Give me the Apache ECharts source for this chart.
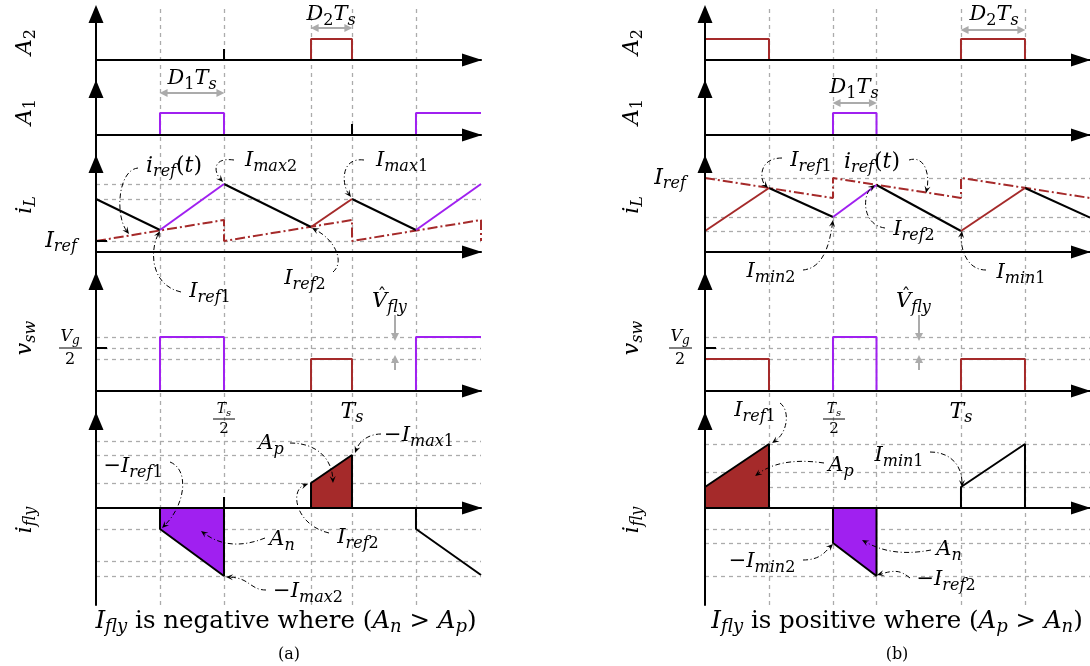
<!DOCTYPE html>
<html><head><meta charset="utf-8">
<script src="https://cdn.jsdelivr.net/npm/echarts@6/dist/echarts.min.js"></script>
<style>html,body{margin:0;padding:0;background:#fff}#c{width:1090px;height:666px}</style>
</head><body><div id="c"></div>
<script>
// ================= DATA =================
const T_MAX = 1.504;               // time axis end, in units of Ts
// ---- panel (a) ----
const aGridT = [0.25, 0.5, 0.84, 1.0, 1.25];
const aA2Brown = [[[0.84,0],[0.84,2.1],[1.0,2.1],[1.0,0]]];
const aA2Ticks = [[[0.5,0],[0.5,1.1]]];
const aA2Span = [0.84, 1.0, 3.2];
const aA1Purple = [[[0.25,0],[0.25,2.2],[0.5,2.2],[0.5,0]], [[1.25,0],[1.25,2.2],[1.504,2.2]]];
const aA1Ticks = [[[1.0,0],[1.0,1.1]]];
const aA1Span = [0.25, 0.5, 4.2];
const aILLevels = [6.8, 5.3, 1.1];
const aILBlack = [[[0,5.3],[0.25,2.2]], [[0.5,6.8],[0.84,2.5]], [[1.0,5.3],[1.25,2.2]]];
const aILPurple = [[[0.25,2.2],[0.5,6.8]], [[1.25,2.2],[1.504,6.8]]];
const aILBrown = [[[0.84,2.5],[1.0,5.3]]];
const aIref = [[0,1.1],[0.5,3.2],[0.5,1.1],[1.0,3.2],[1.0,1.1],[1.504,3.2],[1.504,1.1]];
const aILTicks = [[[0,1.1],[0.043,1.1]]];
const aVswLevels = [5.4, 4.3, 3.2];
const aVswPurple = [[[0.25,0],[0.25,5.4],[0.5,5.4],[0.5,0]], [[1.25,0],[1.25,5.4],[1.504,5.4]]];
const aVswBrown = [[[0.84,0],[0.84,3.2],[1.0,3.2],[1.0,0]]];
const aVswTicks = [[[0,4.3],[0.043,4.3]]];
const aVfly = [1.168, 7.6, 5.4, 2.1, 3.2];
const aIflyLevels = [6.7, 5.3, 2.5, -2.1, -5.3, -6.8];
const aIflyPos = [[0.84,0],[0.84,2.5],[1.0,5.3],[1.0,0]];
const aIflyNeg = [[0.25,0],[0.25,-2.1],[0.5,-6.8],[0.5,0]];
const aIflyLine = [[[1.25,0],[1.25,-2.1],[1.504,-6.7]]];
const aIflyTicks = [[[0.5,0],[0.5,1.1]]];
// ---- panel (b) ----
const bGridT = [0.25, 0.5, 0.67, 1.0, 1.25];
const bA2Brown = [[[0,0],[0,2.1],[0.25,2.1],[0.25,0]], [[1.0,0],[1.0,2.1],[1.25,2.1],[1.25,0]]];
const bA2Ticks = [];
const bA2Span = [1.0, 1.25, 3.0];
const bA1Purple = [[[0.5,0],[0.5,2.2],[0.67,2.2],[0.67,0]]];
const bA1Ticks = [];
const bA1Span = [0.5, 0.67, 3.2];
const bILLevels = [7.4, 3.5, 2.1];
const bILBlack = [[[0.25,6.4],[0.5,3.5]], [[0.67,6.7],[1.0,2.1]], [[1.25,6.4],[1.504,3.45]]];
const bILPurple = [[[0.5,3.5],[0.67,6.7]]];
const bILBrown = [[[0,2.1],[0.25,6.4]], [[1.0,2.1],[1.25,6.4]]];
const bIref = [[0,7.4],[0.5,5.4],[0.5,7.4],[1.0,5.4],[1.0,7.4],[1.504,5.4]];
const bILTicks = [];
const bVswLevels = [5.4, 4.3, 3.2];
const bVswPurple = [[[0.5,0],[0.5,5.4],[0.67,5.4],[0.67,0]]];
const bVswBrown = [[[0,3.2],[0.25,3.2],[0.25,0]], [[1.0,0],[1.0,3.2],[1.25,3.2],[1.25,0]]];
const bVswTicks = [[[0,4.3],[0.043,4.3]]];
const bVfly = [0.836, 7.6, 5.4, 2.1, 3.2];
const bIflyLevels = [6.4, 3.6, 2.1, -2.1, -3.5, -6.8];
const bIflyPos = [[0,0],[0,2.1],[0.25,6.4],[0.25,0]];
const bIflyNeg = [[0.5,0],[0.5,-3.5],[0.67,-6.8],[0.67,0]];
const bIflyLine = [[[1.0,0],[1.0,2.1],[1.25,6.4],[1.25,0]]];
const bIflyTicks = [];

// ================= LAYOUT / STYLE =================
const PX = 10;
const ROWS = [{top:14,base:60,bottom:89},{top:89,base:135,bottom:164},{top:164,base:252,bottom:281},{top:281,base:391,bottom:421},{top:421,base:508,bottom:605}];
const PLOT_W = 385;
const BROWN = '#a52a2a', PURPLE = '#a020f0', GRAY = '#ababab';
const SERIF = '"DejaVu Serif","Liberation Serif",serif';

const grids = [], xAxes = [], yAxes = [], series = [];
function addGrid(left, top, height, ymin, ymax, vis) {
  const gi = grids.length;
  grids.push({left, top, width: PLOT_W, height, outerBoundsMode: 'none'});
  xAxes.push({type:'value', gridIndex:gi, min:0, max:T_MAX, z:5,
    axisLine:{show:vis, onZero:true, lineStyle:{color:'#000', width:2}, symbol:['none','triangle'], symbolSize:[13,20], symbolOffset:[0,-9]},
    axisTick:{show:false}, axisLabel:{show:false}, splitLine:{show:false}});
  yAxes.push({type:'value', gridIndex:gi, min:ymin, max:ymax, z:5,
    axisLine:{show:vis, onZero:false, lineStyle:{color:'#000', width:2}, symbol:['none','triangle'], symbolSize:[15,18]},
    axisTick:{show:false}, axisLabel:{show:false}, splitLine:{show:false}});
  return gi;
}
function line(gi, data, color, width, extra) {
  series.push(Object.assign({type:'line', xAxisIndex:gi, yAxisIndex:gi, data, symbol:'none', showSymbol:false,
    clip:false, silent:true, z:3, animation:false, lineStyle:{color, width}}, extra || {}));
}
function segs(gi, list, color, width) { list.forEach(d => line(gi, d, color, width)); }
function marks(gi, mdata, mstyle, symbols, size, mz) {
  series.push({type:'line', xAxisIndex:gi, yAxisIndex:gi, data:[[0,0]], symbol:'none', silent:true, z:1,
    animation:false, lineStyle:{opacity:0},
    markLine:{z: mz || 1, silent:true, animation:false, symbol:symbols || ['none','none'], symbolSize:size || 8,
      label:{show:false}, lineStyle:mstyle, data:mdata}});
}
const dashStyle = {color:GRAY, type:[4,4], width:1.3};
function hLevels(gi, levels) { marks(gi, levels.map(v => ({yAxis:v})), dashStyle); }
function span(gi, s) {
  const k = 0.014; // pull arrow tips onto the grid lines
  marks(gi, [[{coord:[s[0]+k,s[2]]},{coord:[s[1]-k,s[2]]}]], {color:GRAY, width:2, type:'solid'}, ['triangle','triangle'], 8, 4);
}
function vfly(gi, v) {
  marks(gi, [[{coord:[v[0],v[1]]},{coord:[v[0],v[2]]}], [{coord:[v[0],v[3]]},{coord:[v[0],v[4]]}]],
    {color:GRAY, width:2, type:'solid'}, ['none','triangle'], 8, 4);
}

function buildPanel(P, left) {
  const g = ROWS.map(r => addGrid(left, r.top, r.bottom - r.top, -(r.bottom - r.base) / PX, (r.base - r.top) / PX, true));
  const bg = addGrid(left, 7, 598, 0, 1, false);
  marks(bg, P.gridT.map(t => ({xAxis:t})), dashStyle);
  // A2
  segs(g[0], P.A2Brown, BROWN, 2); segs(g[0], P.A2Ticks, '#000', 2); span(g[0], P.A2Span);
  // A1
  segs(g[1], P.A1Purple, PURPLE, 2); segs(g[1], P.A1Ticks, '#000', 2); span(g[1], P.A1Span);
  // iL
  hLevels(g[2], P.ILLevels);
  line(g[2], P.Iref, BROWN, 2, {lineStyle:{color:BROWN, width:2, type:[10,3,2,3]}});
  segs(g[2], P.ILBlack, '#000', 2); segs(g[2], P.ILPurple, PURPLE, 2); segs(g[2], P.ILBrown, BROWN, 2);
  segs(g[2], P.ILTicks, '#000', 2);
  // vsw
  hLevels(g[3], P.VswLevels);
  segs(g[3], P.VswPurple, PURPLE, 2); segs(g[3], P.VswBrown, BROWN, 2); segs(g[3], P.VswTicks, '#000', 2);
  vfly(g[3], P.Vfly);
  // ifly
  hLevels(g[4], P.IflyLevels);
  line(g[4], P.IflyPos, '#000', 2, {areaStyle:{color:BROWN, opacity:1}});
  line(g[4], P.IflyNeg, '#000', 2, {areaStyle:{color:PURPLE, opacity:1}});
  segs(g[4], P.IflyLine, '#000', 2); segs(g[4], P.IflyTicks, '#000', 2);
}
buildPanel({gridT:aGridT, A2Brown:aA2Brown, A2Ticks:aA2Ticks, A2Span:aA2Span, A1Purple:aA1Purple, A1Ticks:aA1Ticks, A1Span:aA1Span,
  ILLevels:aILLevels, ILBlack:aILBlack, ILPurple:aILPurple, ILBrown:aILBrown, Iref:aIref, ILTicks:aILTicks,
  VswLevels:aVswLevels, VswPurple:aVswPurple, VswBrown:aVswBrown, VswTicks:aVswTicks, Vfly:aVfly,
  IflyLevels:aIflyLevels, IflyPos:aIflyPos, IflyNeg:aIflyNeg, IflyLine:aIflyLine, IflyTicks:aIflyTicks}, 96);
buildPanel({gridT:bGridT, A2Brown:bA2Brown, A2Ticks:bA2Ticks, A2Span:bA2Span, A1Purple:bA1Purple, A1Ticks:bA1Ticks, A1Span:bA1Span,
  ILLevels:bILLevels, ILBlack:bILBlack, ILPurple:bILPurple, ILBrown:bILBrown, Iref:bIref, ILTicks:bILTicks,
  VswLevels:bVswLevels, VswPurple:bVswPurple, VswBrown:bVswBrown, VswTicks:bVswTicks, Vfly:bVfly,
  IflyLevels:bIflyLevels, IflyPos:bIflyPos, IflyNeg:bIflyNeg, IflyLine:bIflyLine, IflyTicks:bIflyTicks}, 705);

// ================= ANNOTATIONS =================
function rich(F) {
  const f = Math.round(F * 0.74), p = Math.round(F * 0.4);
  return {
    m:{fontFamily:SERIF, fontStyle:'italic', fontSize:F, lineHeight:F, verticalAlign:'top'},
    r:{fontFamily:SERIF, fontSize:F, lineHeight:F, verticalAlign:'top'},
    s:{fontFamily:SERIF, fontStyle:'italic', fontSize:f, lineHeight:f, padding:[p,0,0,0], verticalAlign:'top'},
    n:{fontFamily:SERIF, fontSize:f, lineHeight:f, padding:[p,0,0,0], verticalAlign:'top'}
  };
}
const G = [];
function T(x, y, str, F, opt) {
  opt = opt || {};
  G.push({type:'text', x, y, rotation:opt.rot || 0, z:100, silent:true,
    style:{text:str, rich:rich(F), align:opt.align || 'center', verticalAlign:'middle', fill:'#000'}});
}
function bar(x1, x2, y) { G.push({type:'line', z:100, silent:true, shape:{x1, y1:y, x2, y2:y}, style:{stroke:'#000', lineWidth:1}}); }
function leader(p) {
  const [x1,y1,c1x,c1y,c2x,c2y,x2,y2] = p;
  const a = Math.atan2(y2 - c2y, x2 - c2x), L = 7, W = 3;
  const bx = x2 - L * Math.cos(a), by = y2 - L * Math.sin(a);
  const nx = x2 - 0.6 * L * Math.cos(a), ny = y2 - 0.6 * L * Math.sin(a);
  const px = -Math.sin(a) * W, py = Math.cos(a) * W;
  G.push({type:'bezierCurve', z:90, silent:true, shape:{x1, y1, cpx1:c1x, cpy1:c1y, cpx2:c2x, cpy2:c2y, x2:nx, y2:ny},
    style:{stroke:'#000', lineWidth:1, lineDash:[5,2.5,1,2.5], fill:'none'}});
  G.push({type:'polygon', z:91, silent:true, shape:{points:[[x2,y2],[bx+px,by+py],[nx,ny],[bx-px,by-py]]}, style:{fill:'#000'}});
}
const R = Math.PI / 2;
// axis names
[[25],[632]].forEach(([x]) => {
  T(x, 42, '{m|A}{n|2}', 22, {rot:R});
  T(x, 112, '{m|A}{n|1}', 22, {rot:R});
  T(x, 205, '{m|i}{s|L}', 22, {rot:R});
  T(x, 338, '{m|v}{s|sw}', 22, {rot:R});
  T(x, 520, '{m|i}{s|fly}', 22, {rot:R});
});
// panel (a)
T(331, 15, '{m|D}{n|2}{m|T}{s|s}', 21);
T(192, 79, '{m|D}{n|1}{m|T}{s|s}', 21);
T(174, 166, '{m|i}{s|ref}{r|(}{m|t}{r|)}', 22);
T(271, 161, '{m|I}{s|max}{n|2}', 21);
T(402, 161, '{m|I}{s|max}{n|1}', 21);
T(210, 292, '{m|I}{s|ref}{n|1}', 21);
T(305, 279, '{m|I}{s|ref}{n|2}', 21);
T(61, 241, '{m|I}{s|ref}', 22);
T(70, 337, '{m|V}{s|g}', 16); bar(59, 82, 348); T(70, 360, '{r|2}', 16);
T(372, 302, '{m|V}{s|fly}', 21, {align:'left'}); T(382, 297, '{r|ˆ}', 18);
T(224, 409, '{m|T}{s|s}', 14); bar(213, 235, 419); T(224, 429, '{r|2}', 15);
T(352, 412, '{m|T}{s|s}', 22);
T(271, 444, '{m|A}{s|p}', 21);
T(419, 436, '{r|−}{m|I}{s|max}{n|1}', 21);
T(133, 467, '{r|−}{m|I}{s|ref}{n|1}', 21);
T(282, 540, '{m|A}{s|n}', 21);
T(358, 538, '{m|I}{s|ref}{n|2}', 21);
T(308, 592, '{r|−}{m|I}{s|max}{n|2}', 21);
T(286, 621, '{m|I}{s|fly}{r| is negative where (}{m|A}{s|n}{r| > }{m|A}{s|p}{r|)}', 24.5);
T(289, 655, '{r|(a)}', 16);
// panel (b)
T(994, 15, '{m|D}{n|2}{m|T}{s|s}', 21);
T(854, 88, '{m|D}{n|1}{m|T}{s|s}', 21);
T(811, 161, '{m|I}{s|ref}{n|1}', 21);
T(872, 162, '{m|i}{s|ref}{r|(}{m|t}{r|)}', 22);
T(914, 230, '{m|I}{s|ref}{n|2}', 21);
T(670, 178, '{m|I}{s|ref}', 22);
T(771, 272, '{m|I}{s|min}{n|2}', 21);
T(1021, 273, '{m|I}{s|min}{n|1}', 21);
T(680, 337, '{m|V}{s|g}', 16); bar(669, 692, 348); T(680, 360, '{r|2}', 16);
T(896, 302, '{m|V}{s|fly}', 21, {align:'left'}); T(906, 297, '{r|ˆ}', 18);
T(834, 409, '{m|T}{s|s}', 14); bar(823, 845, 419); T(834, 429, '{r|2}', 15);
T(961, 412, '{m|T}{s|s}', 22);
T(755, 411, '{m|I}{s|ref}{n|1}', 21);
T(841, 466, '{m|A}{s|p}', 21);
T(899, 456, '{m|I}{s|min}{n|1}', 21);
T(949, 550, '{m|A}{s|n}', 21);
T(762, 562, '{r|−}{m|I}{s|min}{n|2}', 21);
T(946, 580, '{r|−}{m|I}{s|ref}{n|2}', 21);
T(897, 621, '{m|I}{s|fly}{r| is positive where (}{m|A}{s|p}{r| > }{m|A}{s|n}{r|)}', 24.5);
T(897, 655, '{r|(b)}', 16);
// leader arrows
[
 [138,168, 118,170, 115,215, 129,234],
 [234,160, 212,157, 214,172, 223,182],
 [364,160, 340,157, 342,185, 351,197],
 [181,292, 150,285, 150,250, 160,231],
 [333,272, 345,262, 335,240, 312,228],
 [290,443, 318,443, 332,460, 333,483],
 [381,434, 370,434, 360,440, 355,453],
 [329,533, 295,525, 290,490, 308,484],
 [265,538, 240,548, 220,545, 201,531],
 [266,590, 250,590, 250,578, 226,577],
 [170,462, 190,470, 185,505, 162,528],
 [782,158, 758,158, 760,180, 768,188],
 [909,160, 925,155, 930,175, 926,193],
 [885,228, 862,225, 862,195, 875,185],
 [803,270, 825,268, 830,240, 833,220],
 [986,270, 965,270, 960,245, 962,231],
 [780,403, 790,410, 788,432, 772,443],
 [824,463, 790,458, 770,465, 755,476],
 [930,452, 950,452, 962,465, 962,487],
 [931,550, 900,556, 880,550, 862,540],
 [803,560, 820,560, 825,552, 833,544],
 [910,578, 900,570, 895,570, 877,575]
].forEach(leader);

const chart = echarts.init(document.getElementById('c'), null, {renderer:'canvas'});
chart.setOption({
  backgroundColor:'#ffffff', animation:false,
  grid:grids, xAxis:xAxes, yAxis:yAxes, series,
  graphic:{elements:G}
});
</script></body></html>
